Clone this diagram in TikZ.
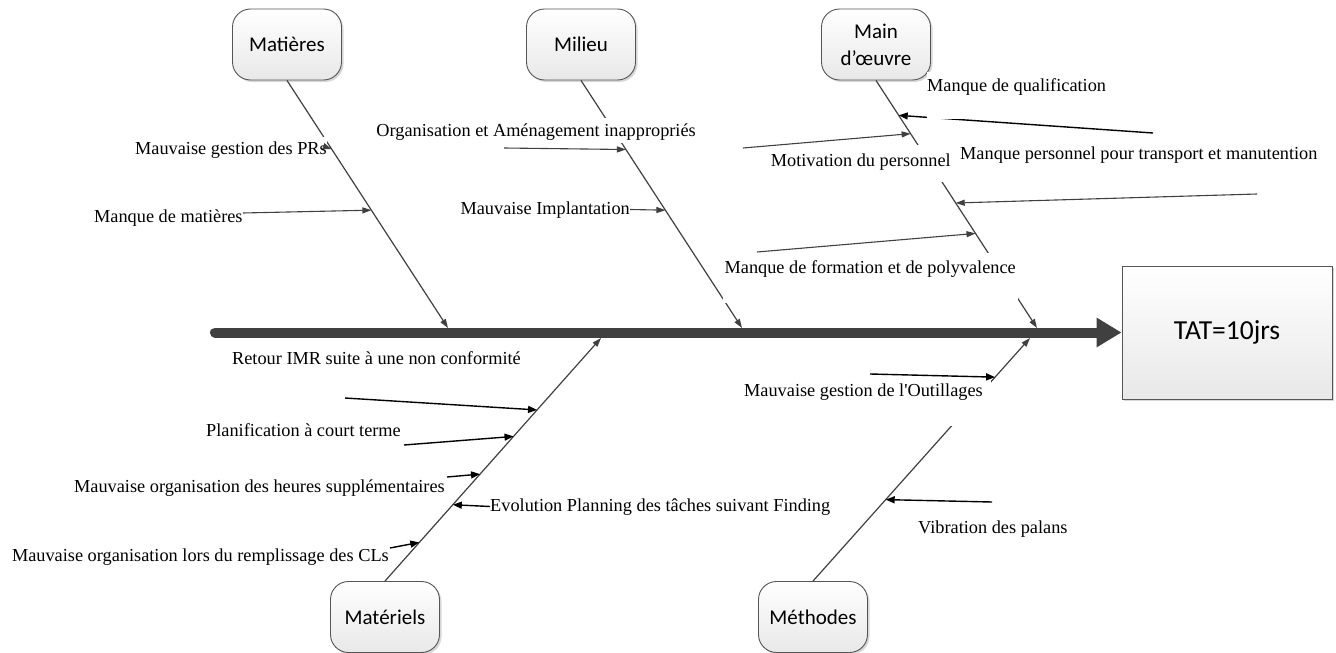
\documentclass[tikz,border=0pt]{standalone}
\usepackage{fontspec}
\setmainfont{Liberation Serif}
\newfontfamily\boxfont{Carlito}
\usetikzlibrary{arrows.meta,shadows,calc}
\definecolor{ink}{HTML}{404040}
\definecolor{edge}{HTML}{555555}
\begin{document}
\begin{tikzpicture}[x=1pt,y=-1pt,
  boxshade/.style={draw=edge, line width=0.9pt, top color=white, bottom color=black!9,
    drop shadow={shadow xshift=2pt, shadow yshift=-2pt, opacity=0.35, fill=black!45}},
  catbox/.style={boxshade, rounded corners=18pt, minimum width=109pt, minimum height=71pt,
    inner sep=0pt, align=center, font=\boxfont\fontsize{21}{27}\selectfont},
  lbl/.style={font=\fontsize{18.3}{20}\selectfont, fill=white, inner xsep=0pt, inner ysep=0pt,
    text height=13pt, text depth=4pt},
  branch/.style={draw=ink, line width=1.2pt, -{Triangle[length=9pt,width=6pt]}},
  cause/.style={draw=ink, line width=1.1pt, -{Triangle[length=9pt,width=6pt]}},
  causeb/.style={draw=black, line width=1.4pt, -{Triangle[length=9pt,width=7pt]}}
]
\useasboundingbox (0,0) rectangle (1336,653);

% effect box and main spine
\node[boxshade, minimum width=210pt, minimum height=133pt, inner sep=0pt,
      font=\boxfont\fontsize{27.5}{32}\selectfont] (tat) at (1227,332.5) {TAT=10jrs};
\coordinate (tail) at (215,332.5);
\draw[ink, line width=10pt, line cap=round, -{Triangle[length=25pt,width=28pt]}] (tail) -- (tat.west);

% category boxes
\node[catbox] (mat) at (287,44.5) {Matières};
\node[catbox] (mil) at (581,44.5) {Milieu};
\node[catbox] (mo)  at (876,44.5) {Main\\d’œuvre};
\node[catbox] (mtl) at (385,617) {Matériels};
\node[catbox] (met) at (813,617) {Méthodes};

% where each category joins the spine
\coordinate (jMat) at (448,328);
\coordinate (jMil) at (742,328);
\coordinate (jMo)  at (1037,328);
\coordinate (jMtl) at (601,338);
\coordinate (jMet) at (1030,338);

\draw[branch] (mat.south) -- (jMat);
\draw[branch] (mil.south) -- (jMil);
\draw[branch] (mo.south)  -- (jMo);
\draw[branch] (mtl.north) -- (jMtl);
\draw[branch] (met.north) -- (jMet);

% points on the branches hit by the causes
\coordinate (pPRs)  at ($(mat.south)!0.278!(jMat)$);
\coordinate (pMq)   at ($(mat.south)!0.524!(jMat)$);
\coordinate (pOrg)  at ($(mil.south)!0.279!(jMil)$);
\coordinate (pImp)  at ($(mil.south)!0.524!(jMil)$);
\coordinate (pQual) at ($(mo.south)!0.141!(jMo)$);
\coordinate (pMot)  at ($(mo.south)!0.215!(jMo)$);
\coordinate (pPers) at ($(mo.south)!0.495!(jMo)$);
\coordinate (pForm) at ($(mo.south)!0.618!(jMo)$);
\coordinate (pRet)  at ($(mtl.north)!0.704!(jMtl)$);
\coordinate (pPlan) at ($(mtl.north)!0.595!(jMtl)$);
\coordinate (pHeu)  at ($(mtl.north)!0.440!(jMtl)$);
\coordinate (pEvo)  at ($(mtl.north)!0.314!(jMtl)$);
\coordinate (pCL)   at ($(mtl.north)!0.159!(jMtl)$);
\coordinate (pOut)  at ($(met.north)!0.839!(jMet)$);
\coordinate (pVib)  at ($(met.north)!0.335!(jMet)$);

% free ends of the cause arrows
\coordinate (sMq)   at (243,213);
\coordinate (sOrg)  at (504,148);
\coordinate (sQual) at (1153,133);
\coordinate (sMot)  at (743,148);
\coordinate (sPers) at (1257,194);
\coordinate (sForm) at (757,252);
\coordinate (sRet)  at (345,398);
\coordinate (sPlan) at (404,445);
\coordinate (sHeu)  at (447,477);
\coordinate (sCL)   at (390,548);
\coordinate (sOut)  at (870,374);
\coordinate (sVib)  at (992,502);

\draw[causeb] (sQual) -- (pQual);

% cause labels (white text blocks)
\node[lbl, anchor=base east, text height=17pt] (lPRs) at (327,154) {Mauvaise gestion des PRs};
\node[lbl, anchor=base west] (lMq) at (94,222.7) {Manque de matières};
\node[lbl, anchor=base east, text height=18pt, text depth=7pt] (lOrg) at (696,136) {Organisation et Aménagement inappropriés};
\node[lbl, anchor=base east] (lImp) at (630,214) {Mauvaise Implantation};
\node[lbl, anchor=base west, text height=19pt, text depth=28pt] (lQual) at (927,91) {Manque de qualification};
\node[lbl, anchor=base east, text height=21pt, text depth=16pt] (lMot) at (951,166) {Motivation du personnel};
\node[lbl, anchor=base west] (lPers) at (960,159) {Manque personnel pour transport et manutention};
\node[lbl, anchor=base east, inner xsep=2pt, text height=20pt, text depth=30pt] (lForm) at (1018,273) {Manque de formation et de polyvalence};
\node[lbl, anchor=base east] (lRet) at (521,364) {Retour IMR suite à une non conformité};
\node[lbl, anchor=base east] (lPlan) at (401,436) {Planification à court terme};
\node[lbl, anchor=base east] (lHeu) at (445,492.7) {Mauvaise organisation des heures supplémentaires};
\node[lbl, anchor=base west] (lEvo) at (490,511) {Evolution Planning des tâches suivant Finding};
\node[lbl, anchor=base east] (lCL) at (389,561) {Mauvaise organisation lors du remplissage des CLs};
\node[lbl, anchor=base east, inner xsep=8pt, text height=20pt, text depth=30pt] (lOut) at (991,396) {Mauvaise gestion de l\textquotesingle Outillages};
\node[lbl, anchor=base west] (lVib) at (918,533) {Vibration des palans};

% cause arrows
\draw[cause] (lPRs.east) -- (pPRs);
\draw[cause] (sMq) -- (pMq);
\draw[cause] (sOrg) -- (pOrg);
\draw[cause] (lImp.east) -- (pImp);
\draw[cause] (sMot) -- (pMot);
\draw[cause] (sPers) -- (pPers);
\draw[cause] (sForm) -- (pForm);
\draw[causeb] (sRet) -- (pRet);
\draw[causeb] (sPlan) -- (pPlan);
\draw[causeb] (sHeu) -- (pHeu);
\draw[causeb] (lEvo.west) -- (pEvo);
\draw[causeb] (sCL) -- (pCL);
\draw[causeb] (sOut) -- (pOut);
\draw[causeb] (sVib) -- (pVib);
\end{tikzpicture}
\end{document}
